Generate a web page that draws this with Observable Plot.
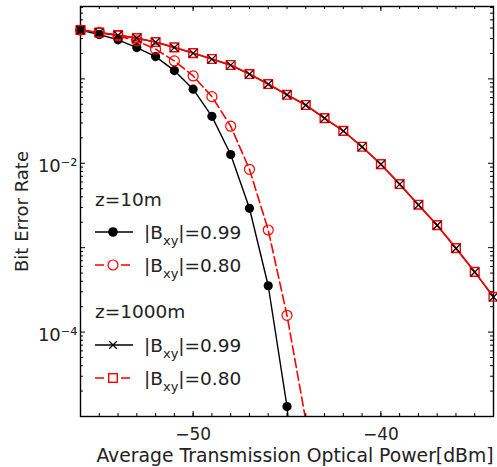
<!DOCTYPE html>
<html><head><meta charset="utf-8">
<script src="https://cdn.jsdelivr.net/npm/d3@7"></script>
<script src="https://cdn.jsdelivr.net/npm/@observablehq/plot@0.6"></script>
<style>body{margin:0;background:#fff}svg{display:block}</style>
</head><body><div id="chart"></div>
<script>
// ---- data ----
const powerZ1000 = [-56,-55,-54,-53,-52,-51,-50,-49,-48,-47,-46,-45,-44,-43,-42,-41,-40,-39,-38,-37,-36,-35,-34];
const berZ1000B099 = [0.378,0.353,0.329,0.303,0.272,0.235,0.2015,0.171,0.145,0.1135,0.0865,0.0646,0.0488,0.0341,0.0241,0.0156,0.00973,0.00564,0.00321,0.00184,0.000982,0.000514,0.00026];
const berZ1000B080 = [0.380,0.354,0.330,0.304,0.273,0.236,0.202,0.172,0.146,0.114,0.0868,0.0648,0.0490,0.0343,0.0242,0.0157,0.00978,0.00567,0.00323,0.00185,0.000988,0.000517,0.000262];
const powerZ10 = [-56,-55,-54,-53,-52,-51,-50,-49,-48,-47,-46,-45,-44];
const berZ10B099 = [0.378,0.335,0.290,0.235,0.1835,0.1253,0.0754,0.0360,0.0127,0.00293,0.000354,1.31e-5,6e-8];
const berZ10B080 = [0.378,0.356,0.323,0.282,0.225,0.163,0.1083,0.0616,0.0275,0.00849,0.00162,0.000158,9e-6];

const xLabelTicks = [-50, -40];
const xMinorTicks = d3.range(-56, -33);
const yLabelTicks = [1e-2, 1e-4];
const yMajorTicks = [1e-5, 1e-4, 1e-3, 1e-2, 1e-1];
const yMinorTicks = yMajorTicks.flatMap(d => d3.range(2, 10).map(k => d * k)).filter(v => v < 0.72);
const supers = {"-2": "\u207B\u00B2", "-4": "\u207B\u2074"};

const xTitle = "Average Transmission Optical Power[dBm]";
const yTitle = "Bit Error Rate";

const RED = "#ff0000";
const rows = (xs, ys) => xs.map((p, i) => ({power: p, ber: ys[i]}));
const z10a = rows(powerZ10, berZ10B099);
const z10b = rows(powerZ10, berZ10B080);
const z1000a = rows(powerZ1000, berZ1000B099);
const z1000b = rows(powerZ1000, berZ1000B080);
const inside = d => d.ber >= 1e-5;

const W = 497, H = 467, mL = 80, mR = 4, mT = 6, mB = 51;
const fw = W - mL - mR, fh = H - mT - mB;

const svg = Plot.plot({
  width: W, height: H,
  marginLeft: mL, marginRight: mR, marginTop: mT, marginBottom: mB,
  style: {fontFamily: "DejaVu Sans", background: "white", color: "#222"},
  x: {domain: [-56, -34], axis: null},
  y: {type: "log", domain: [1e-5, 0.72], axis: null},
  marks: [
    Plot.line(z10a, {x: "power", y: "ber", stroke: "black", strokeWidth: 1.4, clip: true}),
    Plot.line(z10b, {x: "power", y: "ber", stroke: RED, strokeWidth: 1.6, strokeDasharray: "9,4", clip: true}),
    Plot.line(z1000a, {x: "power", y: "ber", stroke: "black", strokeWidth: 1.4, clip: true}),
    Plot.line(z1000b, {x: "power", y: "ber", stroke: RED, strokeWidth: 1.6, clip: true}),
    // ticks (inward, all four sides)
    Plot.tickX(xMinorTicks, {x: d => d, insetTop: fh - 3, stroke: "black"}),
    Plot.tickX(xMinorTicks, {x: d => d, insetBottom: fh - 3, stroke: "black"}),
    Plot.tickX(xLabelTicks, {x: d => d, insetTop: fh - 5, stroke: "black"}),
    Plot.tickX(xLabelTicks, {x: d => d, insetBottom: fh - 5, stroke: "black"}),
    Plot.tickY(yMinorTicks, {y: d => d, insetRight: fw - 3, stroke: "black"}),
    Plot.tickY(yMinorTicks, {y: d => d, insetLeft: fw - 3, stroke: "black"}),
    Plot.tickY(yMajorTicks, {y: d => d, insetRight: fw - 5, stroke: "black"}),
    Plot.tickY(yMajorTicks, {y: d => d, insetLeft: fw - 5, stroke: "black"}),
    Plot.frame({stroke: "black", strokeWidth: 1.4}),
    // markers
    Plot.dot(z10a, {filter: inside, x: "power", y: "ber", r: 4.6, fill: "black", stroke: "none"}),
    Plot.dot(z10b, {filter: inside, x: "power", y: "ber", r: 5, fill: "none", stroke: RED, strokeWidth: 1.2}),
    Plot.dot(z1000b, {filter: inside, x: "power", y: "ber", symbol: "square", r: 4.9, fill: "none", stroke: RED, strokeWidth: 1.4}),
    Plot.dot(z1000a, {filter: inside, x: "power", y: "ber", symbol: "times", r: 3.8, stroke: "black", strokeWidth: 1.3}),
    // tick labels
    Plot.text(xLabelTicks, {x: d => d, frameAnchor: "bottom", lineAnchor: "top", dy: 11, text: d => "\u2212" + Math.abs(d), fontSize: 17, fill: "#222"}),
    Plot.text(yLabelTicks, {y: d => d, frameAnchor: "left", textAnchor: "end", dx: -3, dy: 3, text: d => "10" + supers[String(Math.round(Math.log10(d)))], fontSize: 18, fill: "#222"}),
    // axis titles
    Plot.text([xTitle], {frameAnchor: "bottom", lineAnchor: "top", dy: 32, dx: 8, text: d => d, fontSize: 18.8, fill: "#222"}),
    Plot.text([yTitle], {frameAnchor: "left", textAnchor: "middle", rotate: -90, dx: -58, text: d => d, fontSize: 18, fill: "#222"})
  ]
});

// ---- legend (inside the frame) ----
const g = d3.select(svg).append("g").attr("font-family", "DejaVu Sans").attr("fill", "#222").attr("text-anchor", "start");
const legendHeads = [{label: "z=10m", base: 205.5}, {label: "z=1000m", base: 318}];
legendHeads.forEach(h => g.append("text").attr("x", 95).attr("y", h.base).attr("font-size", 18.5).text(h.label));
const legendRows = [
  {y: 232, stroke: "black", dash: null, marker: "dot", value: "0.99"},
  {y: 265, stroke: RED, dash: "9,4", marker: "circle", value: "0.80"},
  {y: 345, stroke: "black", dash: null, marker: "times", value: "0.99"},
  {y: 378, stroke: RED, dash: "9,4", marker: "square", value: "0.80"}
];
legendRows.forEach(r => {
  g.append("line").attr("x1", 95).attr("x2", 133).attr("y1", r.y).attr("y2", r.y)
    .attr("stroke", r.stroke).attr("stroke-width", r.stroke === RED ? 1.6 : 1.4)
    .attr("stroke-dasharray", r.dash);
  const mx = 113;
  if (r.marker === "dot") g.append("circle").attr("cx", mx).attr("cy", r.y).attr("r", 4.8).attr("fill", "black");
  if (r.marker === "circle") g.append("circle").attr("cx", mx).attr("cy", r.y).attr("r", 5).attr("fill", "white").attr("stroke", RED).attr("stroke-width", 1.2);
  if (r.marker === "times") g.append("path").attr("transform", `translate(${mx},${r.y})`).attr("d", "M-3.8,-3.8L3.8,3.8M-3.8,3.8L3.8,-3.8").attr("stroke", "black").attr("stroke-width", 1.3);
  if (r.marker === "square") g.append("rect").attr("x", mx - 4.3).attr("y", r.y - 4.3).attr("width", 8.6).attr("height", 8.6).attr("fill", "white").attr("stroke", RED).attr("stroke-width", 1.4);
  const t = g.append("text").attr("x", 144).attr("y", r.y + 6.5).attr("font-size", 18.5);
  t.append("tspan").text("|B");
  t.append("tspan").attr("font-size", 13).attr("dy", 6).text("xy");
  t.append("tspan").attr("dy", -6).text("|=" + r.value);
});

document.getElementById("chart").appendChild(svg);
</script>
</body></html>
